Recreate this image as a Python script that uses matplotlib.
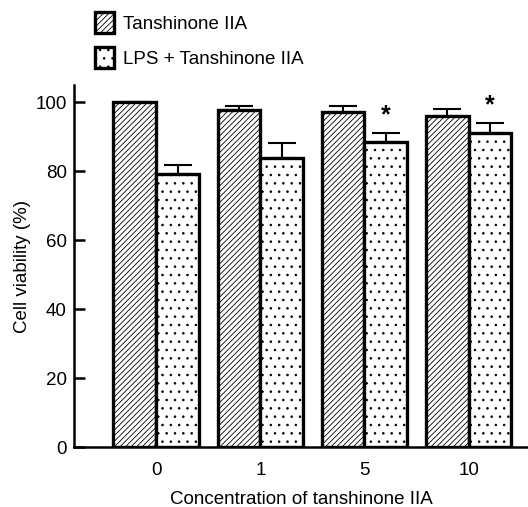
import numpy as np
import matplotlib
matplotlib.use("Agg")
import matplotlib.pyplot as plt

concentrations = ["0", "1", "5", "10"]
tan_mean = [100.0, 97.8, 97.3, 96.1]
tan_err = [0.0, 1.2, 1.7, 2.0]
lps_mean = [79.3, 84.0, 88.4, 91.2]
lps_err = [2.6, 4.3, 2.8, 2.9]
significant = [False, False, True, True]

plt.rcParams['font.family'] = ['Liberation Sans', 'DejaVu Sans']
plt.rcParams['hatch.linewidth'] = 0.6
plt.rcParams['hatch.color'] = '#222222'
plt.rcParams['ytick.direction'] = 'in'

fig = plt.figure(figsize=(5.28, 5.07), dpi=100)
ax = fig.add_axes([0.14, 0.118, 0.86, 0.714])
ax.set_axisbelow(False)

x = np.arange(len(concentrations))
w = 0.41
b1 = ax.bar(x - w / 2, tan_mean, w, facecolor='white', edgecolor='black',
            linewidth=2.4, hatch='//////', label='Tanshinone IIA', zorder=2)
b2 = ax.bar(x + w / 2, lps_mean, w, facecolor='white', edgecolor='black',
            linewidth=2.4, hatch='..', label='LPS + Tanshinone IIA', zorder=2)

ax.errorbar(x - w / 2, tan_mean, yerr=[np.zeros(4), tan_err], fmt='none',
            ecolor='black', elinewidth=1.5, capsize=10, capthick=1.5, zorder=1)
ax.errorbar(x + w / 2, lps_mean, yerr=[np.zeros(4), lps_err], fmt='none',
            ecolor='black', elinewidth=1.5, capsize=10, capthick=1.5, zorder=1)

for i, sig in enumerate(significant):
    if sig:
        ax.text(x[i] + w / 2, lps_mean[i] + lps_err[i] + 1.5, '*',
                ha='center', va='bottom', fontsize=18, fontweight='bold')

ax.set_xlim(-0.79, 3.57)
ax.set_ylim(0, 105)
ax.set_yticks([0, 20, 40, 60, 80, 100])
ax.set_xticks(x)
ax.set_xticklabels(concentrations)
ax.tick_params(axis='x', length=0, pad=11, labelsize=13.5)
ax.tick_params(axis='y', direction='in', left=True, length=8, width=1.8,
               color='black', labelsize=13.5, pad=5)
for s in ['top', 'right']:
    ax.spines[s].set_visible(False)
for s in ['left', 'bottom']:
    ax.spines[s].set_linewidth(1.8)

ax.set_xlabel('Concentration of tanshinone IIA', fontsize=13.5, labelpad=8)
ax.set_ylabel('Cell viability (%)', fontsize=13.5, labelpad=3)

fig.legend(handles=[b1, b2], loc='upper left', bbox_to_anchor=(0.148, 1.01),
           frameon=False, fontsize=13.5, handlelength=1.0, handleheight=1.4,
           labelspacing=0.7, handletextpad=0.5)

fig.savefig('out.png', dpi=100)
